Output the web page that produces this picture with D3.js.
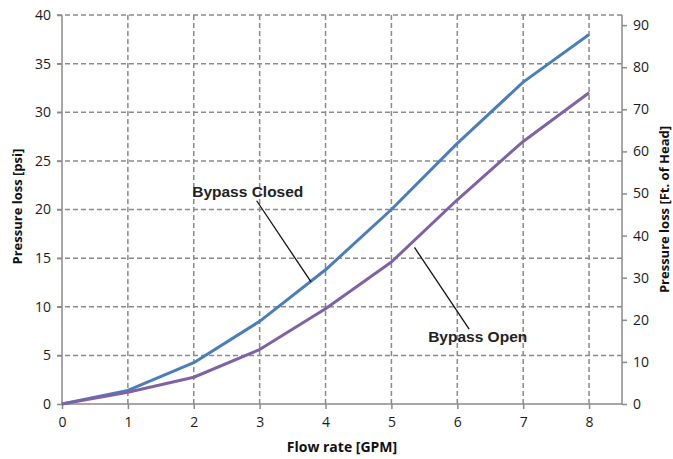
<!DOCTYPE html>
<html><head><meta charset="utf-8">
<script src="https://cdn.jsdelivr.net/npm/d3@7/dist/d3.min.js"></script>
<style>html,body{margin:0;padding:0;background:#fff}svg{display:block}</style>
</head><body><svg id="c" width="673" height="459"></svg>
<script>
const flowRate = [0, 1, 2, 3, 4, 5, 6, 7, 8];
const bypassClosed = [0, 1.4, 4.25, 8.5, 13.8, 20.0, 26.8, 33.1, 38.0];
const bypassOpen = [0, 1.2, 2.75, 5.6, 9.8, 14.6, 21.0, 27.0, 32.0];
const xTicks = [0, 1, 2, 3, 4, 5, 6, 7, 8];
const yLeftTicks = [0, 5, 10, 15, 20, 25, 30, 35, 40];
const yRightTicks = [0, 10, 20, 30, 40, 50, 60, 70, 80, 90];
const seriesNames = ["Bypass Closed", "Bypass Open"];
const seriesColors = ["#4A7EBB", "#7F62A6"];
// annotation: label anchor and leader line in data units
const labelPos = [[2.82, 21.9], [6.31, 6.9]];
const leaders = [[[2.955, 20.9], [3.78, 12.55]], [[5.35, 16.1], [6.18, 7.7]]];

const svg = d3.select("#c");
const x = d3.scaleLinear().domain([0, 8.5]).range([62, 622]);
const yL = d3.scaleLinear().domain([0, 40]).range([404, 15]);
const yR = d3.scaleLinear().domain([0, 40 * 2.31]).range([404, 15]);
const gridColor = "#8a8a8a";
const axisColor = "#8a8a8a";
const tickFont = "Open Sans, Noto Sans, sans-serif";

// gridlines
const g = svg.append("g");
g.selectAll(".hg").data(yLeftTicks.filter(d => d > 0)).join("line")
  .attr("x1", x(0) - 5).attr("x2", x(8.5))
  .attr("y1", d => yL(d)).attr("y2", d => yL(d))
  .attr("stroke", gridColor).attr("stroke-width", 1.5).attr("stroke-dasharray", "5,3");
g.selectAll(".vg").data(xTicks.filter(d => d > 0)).join("line")
  .attr("x1", d => x(d)).attr("x2", d => x(d))
  .attr("y1", yL(40)).attr("y2", yL(0))
  .attr("stroke", gridColor).attr("stroke-width", 1.5).attr("stroke-dasharray", "5,3");

// axes
const ax = svg.append("g").attr("transform", `translate(0,${yL(0)})`)
  .call(d3.axisBottom(x).tickValues(xTicks).tickSize(5).tickPadding(8).tickSizeOuter(0));
const ayl = svg.append("g").attr("transform", `translate(${x(0)},0)`)
  .call(d3.axisLeft(yL).tickValues(yLeftTicks).tickSize(5).tickPadding(6).tickSizeOuter(0));
const ayr = svg.append("g").attr("transform", `translate(${x(8.5)},0)`)
  .call(d3.axisRight(yR).tickValues(yRightTicks).tickSize(5).tickPadding(6).tickSizeOuter(0));
[ax, ayl, ayr].forEach(a => {
  a.select(".domain").attr("stroke", axisColor).attr("stroke-width", 1.5);
  a.selectAll(".tick line").attr("stroke", axisColor).attr("stroke-width", 1.5);
  a.selectAll(".tick text").attr("font-family", tickFont).attr("font-size", 14).attr("fill", "#1a1a1a");
});
ayl.select(".domain").attr("d", `M0,${yL(40)}V${yL(0)}`);
ayr.select(".domain").attr("d", `M0,${yL(40)}V${yL(0)}`);
ax.select(".domain").attr("d", `M${x(0)},0H${x(8.5)}`);

// lines
const line = d3.line().x((d, i) => x(flowRate[i])).y(d => yL(d));
[bypassClosed, bypassOpen].forEach((s, k) => {
  svg.append("path").datum(s).attr("d", line).attr("fill", "none")
    .attr("stroke", seriesColors[k]).attr("stroke-width", 3).attr("stroke-linejoin", "round");
});

// annotations
leaders.forEach(l => {
  svg.append("line").attr("x1", x(l[0][0])).attr("y1", yL(l[0][1]))
    .attr("x2", x(l[1][0])).attr("y2", yL(l[1][1]))
    .attr("stroke", "#111").attr("stroke-width", 1.3);
});
seriesNames.forEach((n, k) => {
  svg.append("text").attr("x", x(labelPos[k][0])).attr("y", yL(labelPos[k][1]))
    .attr("text-anchor", "middle").attr("dominant-baseline", "central")
    .attr("font-family", "Liberation Sans, Arial, sans-serif").attr("font-weight", "bold")
    .attr("font-size", 15.5).attr("fill", "#222").text(n);
});

// axis titles
const titleFont = "Open Sans, Noto Sans, sans-serif";
svg.append("text").attr("x", x(4.25)).attr("y", 452).attr("text-anchor", "middle")
  .attr("font-family", titleFont).attr("font-weight", "bold").attr("font-size", 14).attr("fill", "#111")
  .text("Flow rate [GPM]");
svg.append("text").attr("transform", `translate(22,${yL(20.3)}) rotate(-90)`).attr("text-anchor", "middle")
  .attr("font-family", titleFont).attr("font-weight", "bold").attr("font-size", 13).attr("fill", "#111")
  .text("Pressure loss [psi]");
svg.append("text").attr("transform", `translate(669,${yL(20)}) rotate(-90)`).attr("text-anchor", "middle")
  .attr("font-family", titleFont).attr("font-weight", "bold").attr("font-size", 13).attr("fill", "#111")
  .text("Pressure loss [Ft. of Head]");
</script></body></html>
